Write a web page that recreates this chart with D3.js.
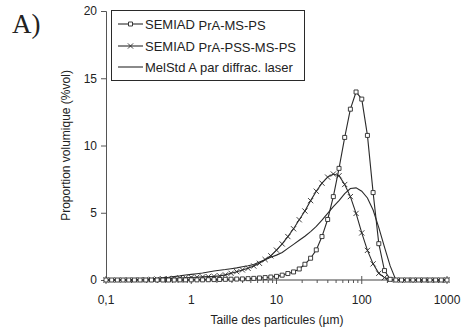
<!DOCTYPE html>
<html>
<head>
<meta charset="utf-8">
<script src="https://cdn.jsdelivr.net/npm/d3@7"></script>
<style>
  html, body { margin: 0; padding: 0; background: #fff; }
  svg { display: block; }
  text { font-family: "Liberation Sans", Arial, sans-serif; fill: #222; }
</style>
</head>
<body>
<svg id="chart" width="461" height="331"></svg>
<script>
// Particle size classes (µm), log-spaced from 0.1 to 1000
const sizes = [
  0.1, 0.1166, 0.1359, 0.1585, 0.1848, 0.2154, 0.2512, 0.2929, 0.3415, 0.3981,
  0.4642, 0.5412, 0.631, 0.7356, 0.8577, 1, 1.166, 1.359, 1.585, 1.848,
  2.154, 2.512, 2.929, 3.415, 3.981, 4.642, 5.412, 6.31, 7.356, 8.577,
  10, 11.66, 13.59, 15.85, 18.48, 21.54, 25.12, 29.29, 34.15, 39.81,
  46.42, 54.12, 63.1, 73.56, 85.77, 100, 116.6, 135.9, 158.5, 184.8,
  215.4, 251.2, 292.9, 341.5, 398.1, 464.2, 541.2, 631, 735.6, 857.7, 1000
];

// Volume proportion (%vol) per class
const semiadMsPs = [
  0, 0, 0, 0, 0, 0, 0, 0, 0, 0,
  0, 0, 0, 0.01, 0.01, 0.01, 0.01, 0.01, 0.02, 0.03,
  0.04, 0.05, 0.06, 0.07, 0.08, 0.1, 0.12, 0.15, 0.18, 0.22,
  0.27, 0.36, 0.48, 0.6, 0.82, 1.17, 1.62, 2.24, 3.23, 4.5,
  6.2, 8.3, 10.6, 12.7, 13.98, 13.45, 10.75, 6.5, 2.7, 0.7,
  0.05, 0, 0, 0, 0, 0, 0, 0, 0, 0, 0
];

const semiadPssMsPs = [
  0, 0, 0, 0, 0.01, 0.01, 0.02, 0.03, 0.05, 0.06,
  0.08, 0.1, 0.12, 0.14, 0.17, 0.19, 0.21, 0.23, 0.25, 0.27,
  0.31, 0.38, 0.5, 0.62, 0.75, 0.87, 1.04, 1.24, 1.52, 1.8,
  2.22, 2.68, 3.23, 3.81, 4.48, 5.13, 5.9, 6.6, 7.2, 7.65,
  7.88, 7.75, 7.1, 6.2, 4.95, 3.5, 2.2, 1.2, 0.5, 0.18,
  0.03, 0, 0, 0, 0, 0, 0, 0, 0, 0, 0
];

const melStdLaser = [
  0, 0, 0, 0, 0.01, 0.02, 0.04, 0.06, 0.09, 0.13,
  0.17, 0.2, 0.26, 0.31, 0.37, 0.42, 0.47, 0.52, 0.6, 0.67,
  0.73, 0.78, 0.84, 0.9, 0.98, 1.06, 1.15, 1.33, 1.5, 1.7,
  1.85, 2.05, 2.35, 2.65, 2.95, 3.25, 3.6, 3.98, 4.45, 4.95,
  5.45, 5.9, 6.42, 6.8, 6.85, 6.6, 6.1, 5.2, 3.9, 2.45,
  1.05, 0, 0, 0, 0, 0, 0, 0, 0, 0, 0
];

const seriesNames = [
  "SEMIAD PrA-MS-PS",
  "SEMIAD PrA-PSS-MS-PS",
  "MelStd A par diffrac. laser"
];

const yTicks = [0, 5, 10, 15, 20];
const xTicks = [0.1, 1, 10, 100, 1000];
const xTickLabels = ["0,1", "1", "10", "100", "1000"];

const svg = d3.select("#chart");
const ink = "#2a2a2a";

const x = d3.scaleLog().domain([0.1, 1000]).range([106, 447]);
const y = d3.scaleLinear().domain([0, 20]).range([280, 11]);

// Panel letter
svg.append("text")
  .attr("x", 12).attr("y", 33)
  .style("font-family", "'Liberation Serif', 'Times New Roman', serif")
  .style("font-size", "27px")
  .text("A)");

// X axis: gray baseline with decade and minor ticks
const xg = svg.append("g");
xg.append("line")
  .attr("x1", x(0.1)).attr("x2", x(1000))
  .attr("y1", y(0)).attr("y2", y(0))
  .attr("stroke", "#a0a0a0").attr("stroke-width", 2);

const minor = [];
for (let d = 0.1; d < 1000; d *= 10) {
  for (let k = 2; k <= 9; k++) minor.push(d * k);
}
xg.selectAll("line.minor").data(minor).join("line")
  .attr("class", "minor")
  .attr("x1", d => x(d)).attr("x2", d => x(d))
  .attr("y1", y(0)).attr("y2", y(0) + 3)
  .attr("stroke", "#555").attr("stroke-width", 1);
xg.selectAll("line.major").data(xTicks).join("line")
  .attr("class", "major")
  .attr("x1", d => x(d)).attr("x2", d => x(d))
  .attr("y1", y(0) - 4).attr("y2", y(0) + 4)
  .attr("stroke", "#555").attr("stroke-width", 1);
xg.selectAll("text.tl").data(xTicks).join("text")
  .attr("class", "tl")
  .attr("x", d => x(d)).attr("y", 304)
  .attr("text-anchor", "middle")
  .style("font-size", "12px")
  .text((d, i) => xTickLabels[i]);

// Y axis
const yAxis = d3.axisLeft(y).tickValues(yTicks).tickSize(5).tickPadding(4);
const yg = svg.append("g").attr("transform", `translate(${x(0.1)},0)`).call(yAxis);
yg.select(".domain").attr("stroke", "#555");
yg.selectAll(".tick line").attr("stroke", "#555");
yg.selectAll(".tick text")
  .style("font-family", "'Liberation Sans', Arial, sans-serif")
  .style("font-size", "12px").attr("fill", "#222");

// Axis titles
svg.append("text")
  .attr("x", 277).attr("y", 324)
  .attr("text-anchor", "middle")
  .style("font-size", "12px")
  .text("Taille des particules (µm)");
svg.append("text")
  .attr("transform", "translate(69.5,145.5) rotate(-90)")
  .attr("text-anchor", "middle")
  .style("font-size", "12px")
  .text("Proportion volumique (%vol)");

// Series
const line = d3.line().x(d => x(d[0])).y(d => y(d[1]));
const toPts = vals => sizes.map((s, i) => [s, vals[i]]);

const squarePath = s => `M${-s},${-s}h${2 * s}v${2 * s}h${-2 * s}Z`;
const crossPath = s => `M${-s},${-s}L${s},${s}M${-s},${s}L${s},${-s}`;

const plot = svg.append("g");
function drawSeries(vals, marker) {
  const pts = toPts(vals);
  plot.append("path").datum(pts)
    .attr("d", line).attr("fill", "none")
    .attr("stroke", ink).attr("stroke-width", 1.1);
  if (marker === "square") {
    plot.append("g").selectAll("path").data(pts).join("path")
      .attr("transform", d => `translate(${x(d[0])},${y(d[1])})`)
      .attr("d", squarePath(2))
      .attr("fill", "#fff").attr("stroke", ink).attr("stroke-width", 0.9);
  } else if (marker === "cross") {
    plot.append("g").selectAll("path").data(pts).join("path")
      .attr("transform", d => `translate(${x(d[0])},${y(d[1])})`)
      .attr("d", crossPath(2.6))
      .attr("fill", "none").attr("stroke", ink).attr("stroke-width", 0.9);
  }
}
drawSeries(melStdLaser, null);
drawSeries(semiadPssMsPs, "cross");
drawSeries(semiadMsPs, "square");

// Legend
const lg = svg.append("g");
lg.append("rect")
  .attr("x", 111.5).attr("y", 10.5).attr("width", 193).attr("height", 70)
  .attr("fill", "#fff").attr("stroke", ink).attr("stroke-width", 1);
const rows = [
  { name: seriesNames[0], marker: "square", y: 24 },
  { name: seriesNames[1], marker: "cross", y: 46 },
  { name: seriesNames[2], marker: null, y: 67 }
];
rows.forEach(r => {
  lg.append("line")
    .attr("x1", 118).attr("x2", 143).attr("y1", r.y).attr("y2", r.y)
    .attr("stroke", ink).attr("stroke-width", 1.1);
  if (r.marker === "square") {
    lg.append("path").attr("transform", `translate(130.5,${r.y})`)
      .attr("d", squarePath(2)).attr("fill", "#fff").attr("stroke", ink).attr("stroke-width", 0.9);
  } else if (r.marker === "cross") {
    lg.append("path").attr("transform", `translate(130.5,${r.y})`)
      .attr("d", crossPath(2.6)).attr("fill", "none").attr("stroke", ink).attr("stroke-width", 0.9);
  }
  const t = lg.append("text").attr("x", 145).attr("y", r.y + 4.5).style("font-size", "13px");
  const parts = r.name.split(" ");
  if (r.marker) {
    t.append("tspan").text(parts[0] + " ");
    t.append("tspan").attr("dy", 1.5).text(parts.slice(1).join(" "));
  } else {
    t.text(r.name);
  }
});
</script>
</body>
</html>
